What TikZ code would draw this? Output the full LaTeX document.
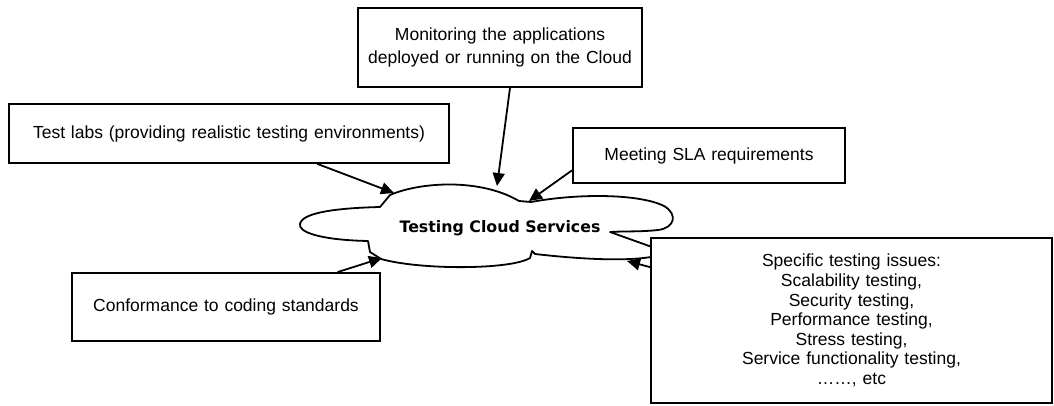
\documentclass[tikz,border=0pt]{standalone}
\usepackage{fontspec}
\setmainfont[WordSpace=1.2]{Liberation Sans}
\newfontfamily\cloudfont{DejaVu Sans}
\usetikzlibrary{arrows.meta,calc}
\begin{document}
\begin{tikzpicture}[x=1pt,y=-1pt,
  box/.style={draw=black,fill=white,line width=1.8pt,rectangle,inner sep=0pt,align=center,
    font=\fontsize{17.5}{19.6}\selectfont},
  conn/.style={line width=1.8pt,-{Triangle[length=13pt,width=12pt]}},
  cloudline/.style={line width=1.8pt,line join=round}]
\useasboundingbox (0,0) rectangle (1054,406);
% cloud outline
\draw[cloudline] (390,195) .. controls (420,182) and (480,178) .. (519,201)
  -- (531,202)
  .. controls (580,193) and (640,194) .. (664,206)
  .. controls (678,214) and (675,228) .. (658,230)
  .. controls (640,232) and (625,231) .. (610,232)
  -- (652,247) -- (668,252) -- (668,257) -- (651,257)
  .. controls (620,262) and (570,258) .. (535,254)
  -- (532,251) -- (530,258)
  .. controls (510,270) and (420,270) .. (381,259)
  -- (370,252) -- (368,241)
  .. controls (320,240) and (298,232) .. (300,224)
  .. controls (302,212) and (340,208) .. (380,207)
  -- cycle;
\node[font=\cloudfont\bfseries\fontsize{15.8}{18}\selectfont] (cloud) at (500,228) {Testing Cloud Services};
% boxes
\node[box,minimum width=284pt,minimum height=79pt,font=\fontsize{17.5}{22.5}\selectfont] (mon) at (500,47.5)
  {Monitoring the applications\\deployed or running on the Cloud};
\node[box,minimum width=440pt,minimum height=59pt] (lab) at (229,133.5)
  {Test labs (providing realistic testing environments)};
\node[box,minimum width=272pt,minimum height=55pt] (sla) at (709,155.5)
  {Meeting SLA requirements};
\node[box,minimum width=308pt,minimum height=68pt] (conf) at (226,307)
  {Conformance to coding standards};
\node[box,minimum width=401pt,minimum height=165pt] (spec) at (851.5,320.5)
  {Specific testing issues:\\Scalability testing,\\Security testing,\\Performance testing,\\Stress testing,\\Service functionality testing,\\\dots\dots, etc};
% arrow tips on the cloud
\coordinate (t1) at (394,193);
\coordinate (t2) at (497,186);
\coordinate (t3) at (529,201);
\coordinate (t4) at (382,258);
\coordinate (t5) at (627,261);
% connectors
\draw[conn] ($(lab.south west)!0.7!(lab.south east)$) -- (t1);
\draw[conn] ($(mon.south west)!0.535!(mon.south east)$) -- (t2);
\draw[conn] ($(sla.north west)!0.76!(sla.south west)$) -- (t3);
\draw[conn] ($(conf.north west)!0.86!(conf.north east)$) -- (t4);
\draw[conn] ($(spec.north west)!0.18!(spec.south west)$) -- (t5);
\end{tikzpicture}
\end{document}
